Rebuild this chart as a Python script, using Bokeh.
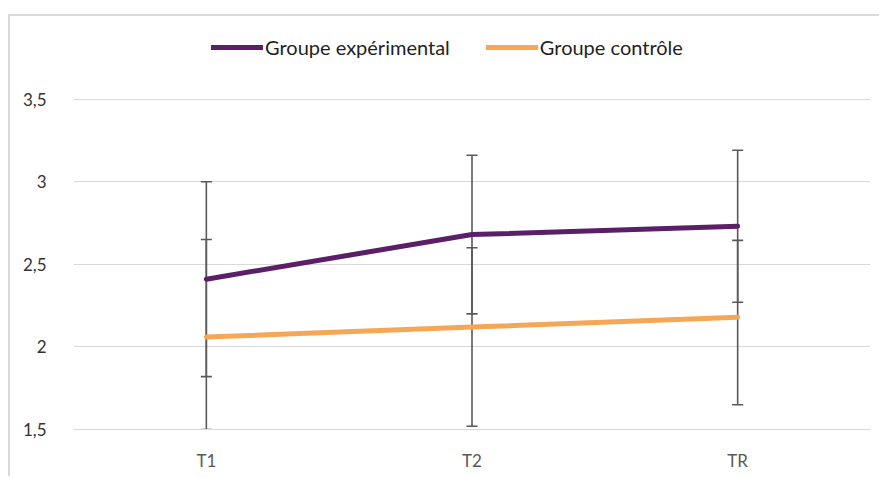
from bokeh.plotting import figure
from bokeh.models import (ColumnDataSource, Whisker, TeeHead, Legend, LegendItem,
                          FixedTicker, Range1d)
from bokeh.embed import file_html
from bokeh.resources import INLINE

categories = ["T1", "T2", "TR"]
exp_mean = [2.41, 2.68, 2.73]
exp_upper = [3.00, 3.16, 3.19]
exp_lower = [1.82, 2.20, 2.27]
ctrl_mean = [2.06, 2.12, 2.18]
ctrl_upper = [2.65, 2.60, 2.645]
ctrl_lower = [1.50, 1.52, 1.65]
y_ticks = [1.5, 2.0, 2.5, 3.0, 3.5]
y_tick_labels = ["1,5", "2", "2,5", "3", "3,5"]
series_names = ["Groupe expérimental", "Groupe contrôle"]

PURPLE = "#5b1f69"
ORANGE = "#f5a756"
FONT = "Lato"

p = figure(x_range=categories, y_range=Range1d(1.5, 4.0), width=871, height=462,
           output_backend="svg", toolbar_location=None,
           min_border_left=63, min_border_right=11, min_border_top=0, min_border_bottom=49)
p.styles = {"margin-left": "8px", "margin-top": "14px",
            "border-left": "2px solid #d9d9d9", "border-top": "2px solid #d9d9d9"}
p.outline_line_color = None
p.background_fill_color = "white"
p.border_fill_color = "white"

src_e = ColumnDataSource(dict(x=categories, y=exp_mean, up=exp_upper, lo=exp_lower))
src_c = ColumnDataSource(dict(x=categories, y=ctrl_mean, up=ctrl_upper, lo=ctrl_lower))

for src in (src_e, src_c):
    w = Whisker(source=src, base="x", upper="up", lower="lo",
                line_color="#595959", line_width=1.6,
                upper_head=TeeHead(size=11, line_color="#595959", line_width=1.6),
                lower_head=TeeHead(size=11, line_color="#595959", line_width=1.6))
    p.add_layout(w)

r_e = p.line("x", "y", source=src_e, line_color=PURPLE, line_width=5, line_cap="round")
r_c = p.line("x", "y", source=src_c, line_color=ORANGE, line_width=5, line_cap="round")

legend = Legend(items=[LegendItem(label=series_names[0], renderers=[r_e]),
                       LegendItem(label=series_names[1], renderers=[r_c])],
                orientation="horizontal", location=(138, 370),
                glyph_width=52, glyph_height=22, label_standoff=2, spacing=36,
                padding=0, margin=0, border_line_color=None, background_fill_alpha=0,
                label_text_font=FONT, label_text_font_size="20px", label_text_color="#1f1f1f")
p.add_layout(legend, "center")

p.xgrid.grid_line_color = None
p.ygrid.grid_line_color = "#d9d9d9"
p.ygrid.grid_line_width = 1

p.yaxis.ticker = FixedTicker(ticks=y_ticks)
p.yaxis.major_label_overrides = {t: l for t, l in zip(y_ticks, y_tick_labels)}
p.yaxis.axis_line_color = None
p.yaxis.major_tick_line_color = None
p.yaxis.minor_tick_line_color = None
p.yaxis.major_label_standoff = 21
p.yaxis.major_label_text_font = FONT
p.yaxis.major_label_text_font_size = "17px"
p.yaxis.major_label_text_color = "#333333"

p.xaxis.axis_line_color = "#d9d9d9"
p.xaxis.major_tick_line_color = None
p.xaxis.minor_tick_line_color = None
p.xaxis.major_label_standoff = 14
p.xaxis.major_label_text_font = FONT
p.xaxis.major_label_text_font_size = "17px"
p.xaxis.major_label_text_color = "#595959"

open("out.html", "w").write(file_html(p, INLINE))
